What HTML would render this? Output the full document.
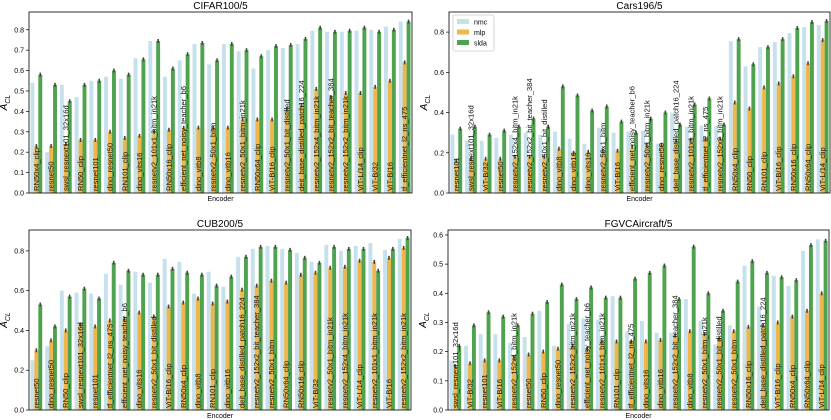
<!DOCTYPE html>
<html><head><meta charset="utf-8">
<style>
html,body{margin:0;padding:0;background:#fff;}
svg{display:block;font-family:"Liberation Sans","DejaVu Sans",sans-serif;}
</style></head>
<body>
<svg id="chart" width="831" height="420" viewBox="0 0 831 420" xmlns="http://www.w3.org/2000/svg"></svg>
<script>
const cifarCats=["RN50x4_clip","resnet50","swsl_resnext101_32x16d","RN50_clip","resnet101","dino_resnet50","RN101_clip","dino_vits16","resnetv2_101x1_bitm_in21k","RN50x16_clip","efficient_net_noisy_teacher_b6","dino_vitb8","resnetv2_50x1_bitm","dino_vitb16","resnetv2_50x1_bitm_in21k","RN50x64_clip","ViT-B/16_clip","resnetv2_50x1_bit_distilled","deit_base_distilled_patch16_224","resnetv2_152x4_bitm_in21k","resnetv2_152x2_bit_teacher_384","resnetv2_152x2_bitm_in21k","ViT-L/14_clip","ViT-B/32","ViT-B/16","tf_efficientnet_l2_ns_475"];
const cifarNmc=[0.54,0.20,0.53,0.47,0.55,0.57,0.56,0.66,0.745,0.57,0.65,0.73,0.63,0.73,0.695,0.61,0.70,0.71,0.73,0.795,0.79,0.79,0.795,0.80,0.815,0.84];
const cifarMlp=[0.23,0.23,0.24,0.26,0.26,0.30,0.27,0.28,0.30,0.31,0.32,0.32,0.32,0.32,0.36,0.36,0.36,0.41,0.43,0.51,0.47,0.49,0.49,0.52,0.55,0.64];
const cifarSlda=[0.58,0.53,0.45,0.53,0.55,0.60,0.58,0.655,0.745,0.61,0.68,0.735,0.65,0.73,0.70,0.67,0.72,0.725,0.755,0.81,0.79,0.795,0.81,0.79,0.80,0.84];
const cifarTicks=[0,0.1,0.2,0.3,0.4,0.5,0.6,0.7,0.8];

const carsCats=["resnet101","swsl_resnext101_32x16d","ViT-B/32","resnet50","resnetv2_152x4_bitm_in21k","resnetv2_152x2_bit_teacher_384","resnetv2_50x1_bit_distilled","dino_vitb8","dino_vitb16","dino_vits16","resnetv2_50x1_bitm","ViT-B/16","efficient_net_noisy_teacher_b6","resnetv2_50x1_bitm_in21k","dino_resnet50","deit_base_distilled_patch16_224","resnetv2_101x1_bitm_in21k","tf_efficientnet_l2_ns_475","resnetv2_152x2_bitm_in21k","RN50x4_clip","RN50_clip","RN101_clip","ViT-B/16_clip","RN50x16_clip","RN50x64_clip","ViT-L/14_clip"];
const carsNmc=[0.29,0.26,0.26,0.275,0.29,0.30,0.29,0.305,0.27,0.245,0.325,0.30,0.305,0.31,0.245,0.40,0.33,0.335,0.335,0.755,0.63,0.725,0.75,0.795,0.825,0.835];
const carsMlp=[0.16,0.17,0.17,0.17,0.18,0.18,0.18,0.22,0.20,0.205,0.21,0.21,0.23,0.24,0.24,0.26,0.265,0.27,0.27,0.45,0.42,0.525,0.545,0.58,0.645,0.76];
const carsSlda=[0.32,0.33,0.29,0.31,0.33,0.37,0.33,0.53,0.485,0.41,0.43,0.355,0.30,0.37,0.40,0.34,0.44,0.47,0.34,0.765,0.64,0.725,0.765,0.82,0.85,0.855];
const carsTicks=[0,0.2,0.4,0.6,0.8];

const cubCats=["resnet50","dino_resnet50","RN50_clip","swsl_resnext101_32x16d","resnet101","tf_efficientnet_l2_ns_475","efficient_net_noisy_teacher_b6","dino_vits16","resnetv2_50x1_bit_distilled","ViT-B/16_clip","RN50x4_clip","dino_vitb8","RN101_clip","dino_vitb16","deit_base_distilled_patch16_224","resnetv2_152x2_bit_teacher_384","resnetv2_50x1_bitm","RN50x64_clip","RN50x16_clip","ViT-B/32","resnetv2_50x1_bitm_in21k","resnetv2_152x4_bitm_in21k","ViT-L/14_clip","resnetv2_101x1_bitm_in21k","ViT-B/16","resnetv2_152x2_bitm_in21k"];
const cubNmc=[0.25,0.32,0.60,0.59,0.585,0.685,0.63,0.695,0.64,0.76,0.745,0.585,0.695,0.62,0.77,0.81,0.825,0.81,0.79,0.745,0.83,0.80,0.825,0.84,0.805,0.86];
const cubMlp=[0.30,0.35,0.40,0.43,0.42,0.45,0.46,0.49,0.47,0.52,0.54,0.56,0.535,0.545,0.605,0.625,0.65,0.64,0.68,0.69,0.715,0.72,0.75,0.745,0.765,0.815];
const cubSlda=[0.53,0.42,0.57,0.61,0.56,0.74,0.70,0.68,0.68,0.71,0.69,0.68,0.625,0.67,0.77,0.82,0.82,0.805,0.765,0.74,0.82,0.81,0.81,0.70,0.81,0.865];
const cubTicks=[0,0.2,0.4,0.6,0.8];

const fgvcCats=["swsl_resnext101_32x16d","ViT-B/32","resnet101","ViT-B/16","resnetv2_152x4_bitm_in21k","resnet50","RN50_clip","dino_resnet50","resnetv2_152x2_bitm_in21k","efficient_net_noisy_teacher_b6","resnetv2_101x1_bitm_in21k","RN101_clip","tf_efficientnet_l2_ns_475","dino_vits16","dino_vitb16","resnetv2_152x2_bit_teacher_384","dino_vitb8","resnetv2_50x1_bitm_in21k","resnetv2_50x1_bit_distilled","resnetv2_50x1_bitm","RN50x16_clip","deit_base_distilled_patch16_224","ViT-B/16_clip","RN50x4_clip","RN50x64_clip","ViT-L/14_clip"];
const fgvcNmc=[0.17,0.22,0.26,0.26,0.23,0.25,0.34,0.22,0.295,0.315,0.31,0.39,0.27,0.305,0.265,0.265,0.38,0.305,0.225,0.29,0.495,0.355,0.46,0.425,0.545,0.585];
const fgvcMlp=[0.15,0.16,0.17,0.17,0.18,0.19,0.20,0.21,0.22,0.21,0.235,0.235,0.235,0.235,0.24,0.255,0.27,0.26,0.245,0.27,0.285,0.29,0.30,0.32,0.34,0.40];
const fgvcSlda=[0.22,0.29,0.335,0.32,0.29,0.33,0.37,0.43,0.38,0.42,0.385,0.385,0.45,0.47,0.495,0.38,0.56,0.40,0.34,0.44,0.51,0.47,0.455,0.445,0.565,0.58];
const fgvcTicks=[0,0.1,0.2,0.3,0.4,0.5,0.6];

const NS="http://www.w3.org/2000/svg";
const svg=document.getElementById('chart');
function mk(tag,attrs,parent){const e=document.createElementNS(NS,tag);for(const k in attrs)e.setAttribute(k,attrs[k]);(parent||svg).appendChild(e);return e;}
const COL={nmc:"#c6e1ec",mlp:"#f0b64c",slda:"#4fa34f"};

function panel(key,title,cats,nmc,mlp,slda,ticks,L,R,T,B,ymax,legend){
  const g=mk('g',{});
  
  
  const y=v=>B-(v/ymax)*(B-T);
  const gw=(R-L)/cats.length;
  const x=i=>L+i*gw;
  const bw=gw*0.8/3;
  const series=[["nmc",nmc],["mlp",mlp],["slda",slda]];
  cats.forEach((c,i)=>{
    series.forEach(([s,arr],j)=>{
      const v=arr[i];
      const bx=x(i)+gw*0.1+j*bw;
      const r=mk('rect',{x:bx,y:y(v),width:bw,height:B-y(v),fill:COL[s]},g);
      
      
      if(s!=="nmc"){
        const e=mk('line',{x1:bx+bw/2,x2:bx+bw/2,y1:y(v)-2,y2:y(v)+2,stroke:"#444","stroke-width":1.6},g);
        
        
      }
    });
    const tx=x(i)+gw*0.5+2.5, ty=B-2;
    const t=mk('text',{x:tx,y:ty,transform:`rotate(-90 ${tx} ${ty})`,"font-size":"7.6",fill:"#111"},g);
    t.textContent=c;
    
    
  });
  ticks.forEach(tv=>{
    mk('line',{x1:L-3,x2:L,y1:y(tv),y2:y(tv),stroke:"#000","stroke-width":0.7},g);
    const t=mk('text',{x:L-5,y:y(tv)+2.5,"font-size":"7","text-anchor":"end",fill:"#000"},g);
    t.textContent=tv.toFixed(1);
    
    
  });
  const fr=mk('rect',{x:L,y:T,width:R-L,height:B-T,fill:"none",stroke:"#000","stroke-width":0.8},g);
  
  
  const tt=mk('text',{x:(L+R)/2,y:T-3,"font-size":"10","text-anchor":"middle",fill:"#000"},g);
  tt.textContent=title;
  
  
  const xl=mk('text',{x:(L+R)/2,y:B+8,"font-size":"7","text-anchor":"middle",fill:"#000"},g);
  xl.textContent="Encoder";
  
  
  const yx=L-22, yy=(T+B)/2;
  const yl=mk('text',{x:yx,y:yy,transform:`rotate(-90 ${yx} ${yy})`,"font-size":"10","text-anchor":"middle",fill:"#000"},g);
  yl.innerHTML='<tspan font-style="italic">A</tspan><tspan font-size="7" font-style="italic" dy="3">CL</tspan>';
  
  
  if(legend){
    const lg=mk('g',{},g);
    
    
    mk('rect',{x:L+4,y:T+3,width:41,height:36,fill:"#fff",stroke:"#ccc","stroke-width":0.8,rx:2},lg);
    series.forEach(([s],j)=>{
      const ey=T+10+j*10.5;
      const sw=mk('rect',{x:L+8,y:ey-3,width:12,height:5,fill:COL[s]},lg);
      
      
      const lt=mk('text',{x:L+25,y:ey+2.3,"font-size":"7",fill:"#000"},lg);
      lt.textContent=s;
      
      
    });
  }
}
panel('cifar',"CIFAR100/5",cifarCats,cifarNmc,cifarMlp,cifarSlda,cifarTicks,29,412,12,193,0.887,false);
panel('cars',"Cars196/5",carsCats,carsNmc,carsMlp,carsSlda,carsTicks,449,830,12,193,0.90,true);
panel('cub',"CUB200/5",cubCats,cubNmc,cubMlp,cubSlda,cubTicks,29,411,230,410,0.905,false);
panel('fgvc',"FGVCAircraft/5",fgvcCats,fgvcNmc,fgvcMlp,fgvcSlda,fgvcTicks,448,829,230,410,0.617,false);
</script>
</body></html>
